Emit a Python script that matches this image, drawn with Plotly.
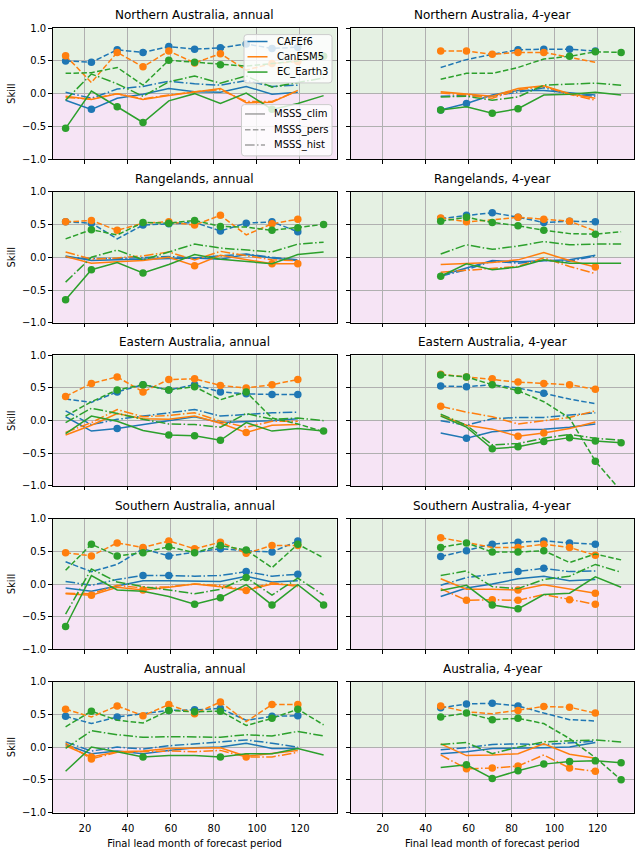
import plotly.graph_objects as go

# ---------------- data ----------------
LEAD_ANNUAL = [11, 23, 35, 47, 59, 71, 83, 95, 107, 119, 131]
LEAD_4YR = [47, 59, 71, 83, 95, 107, 119, 131]
X_TICKS = [20, 40, 60, 80, 100, 120]
Y_TICKS = [-1.0, -0.5, 0.0, 0.5, 1.0]
MODELS = ["CAFEf6", "CanESM5", "EC_Earth3"]
METRICS = ["MSSS_clim", "MSSS_pers", "MSSS_hist"]
REGIONS = ["Northern Australia", "Rangelands", "Eastern Australia", "Southern Australia", "Australia"]

# Northern Australia, annual
n_ann_clim_cafe = [-0.10, -0.24, -0.07, -0.01, 0.08, 0.03, 0.02, 0.11, -0.01, 0.02]
n_ann_clim_can = [-0.04, -0.09, 0.00, -0.09, -0.03, 0.02, 0.08, -0.14, -0.13, 0.05]
n_ann_clim_ec = [-0.53, 0.04, -0.20, -0.44, -0.11, 0.00, -0.15, 0.01, -0.24, -0.15, -0.03]
n_ann_pers_cafe = [0.50, 0.48, 0.67, 0.63, 0.72, 0.68, 0.70, 0.76, 0.69, 0.71]
n_ann_pers_can = [0.58, 0.17, 0.63, 0.41, 0.65, 0.47, 0.61, 0.36, 0.46, 0.49]
n_ann_pers_ec = [0.31, 0.32, 0.40, 0.13, 0.51, 0.48, 0.44, 0.42, 0.46, 0.50, 0.57]
n_ann_hist_cafe = [0.02, -0.07, 0.07, 0.11, 0.19, 0.15, 0.13, 0.20, 0.11, 0.13]
n_ann_hist_can = [-0.06, -0.08, 0.00, -0.08, -0.02, 0.03, 0.06, -0.12, -0.12, 0.04]
n_ann_hist_ec = [-0.10, 0.30, 0.15, -0.04, 0.18, 0.27, 0.16, 0.27, 0.10, 0.17, 0.24]
n_ann_sig_clim = [[1], [], [0, 2, 3, 8]]
n_ann_sig_pers = [[0, 1, 2, 3, 4, 5, 6, 7, 8, 9], [0, 2, 3, 4, 5, 6, 8, 9], [4, 5, 6, 10]]
n_ann_sig_hist = [[], [], []]

# Northern Australia, 4-year
n_4y_clim_cafe = [-0.25, -0.15, -0.02, 0.05, 0.05, 0.02, -0.02]
n_4y_clim_can = [0.03, -0.01, -0.04, 0.08, 0.12, 0.00, -0.07]
n_4y_clim_ec = [-0.25, -0.20, -0.30, -0.23, -0.02, -0.01, 0.02, -0.02]
n_4y_pers_cafe = [0.40, 0.52, 0.60, 0.67, 0.68, 0.68, 0.65]
n_4y_pers_can = [0.65, 0.65, 0.60, 0.63, 0.63, 0.55, 0.48]
n_4y_pers_ec = [0.22, 0.31, 0.31, 0.40, 0.53, 0.57, 0.64, 0.63]
n_4y_hist_cafe = [-0.04, -0.03, -0.04, 0.03, 0.09, -0.01, -0.04]
n_4y_hist_can = [0.01, -0.02, -0.07, 0.06, 0.11, -0.01, -0.10]
n_4y_hist_ec = [-0.05, -0.04, -0.10, -0.05, 0.13, 0.14, 0.16, 0.13]
n_4y_sig_clim = [[0, 1], [], [0, 2, 3]]
n_4y_sig_pers = [[3, 4, 5, 6], [0, 1, 2, 3, 4], [5, 6, 7]]
n_4y_sig_hist = [[], [], []]

# Rangelands, annual
r_ann_clim_cafe = [0.02, -0.05, -0.04, -0.03, -0.03, -0.01, -0.03, 0.04, -0.01, -0.05]
r_ann_clim_can = [0.01, -0.09, -0.07, -0.05, 0.00, -0.13, 0.03, -0.04, -0.10, -0.10]
r_ann_clim_ec = [-0.65, -0.19, -0.08, -0.24, -0.11, 0.04, -0.03, -0.06, -0.10, 0.04, 0.08]
r_ann_pers_cafe = [0.54, 0.52, 0.28, 0.49, 0.51, 0.53, 0.40, 0.52, 0.54, 0.39]
r_ann_pers_can = [0.54, 0.56, 0.41, 0.52, 0.54, 0.49, 0.64, 0.34, 0.51, 0.58]
r_ann_pers_ec = [0.28, 0.42, 0.34, 0.53, 0.52, 0.56, 0.47, 0.46, 0.41, 0.45, 0.50]
r_ann_hist_cafe = [0.00, -0.02, -0.02, 0.00, 0.01, -0.01, 0.02, 0.05, 0.00, -0.04]
r_ann_hist_can = [0.08, -0.03, -0.01, 0.02, 0.08, -0.04, 0.09, 0.02, -0.04, -0.05]
r_ann_hist_ec = [-0.38, 0.00, 0.11, -0.04, 0.08, 0.20, 0.14, 0.11, 0.08, 0.20, 0.23]
r_ann_sig_clim = [[], [5, 8, 9], [0, 1, 3]]
r_ann_sig_pers = [[0, 1, 3, 4, 5, 6, 7, 8, 9], [0, 1, 2, 4, 5, 6, 8, 9], [1, 3, 4, 5, 6, 8, 9, 10]]
r_ann_sig_hist = [[], [], []]

# Rangelands, 4-year
r_4y_clim_cafe = [-0.28, -0.16, -0.05, -0.07, -0.06, -0.04, 0.03]
r_4y_clim_can = [-0.11, -0.10, -0.08, -0.04, 0.07, -0.05, -0.15]
r_4y_clim_ec = [-0.29, -0.10, -0.19, -0.15, -0.04, -0.09, -0.09, -0.09]
r_4y_pers_cafe = [0.59, 0.64, 0.68, 0.61, 0.53, 0.55, 0.54]
r_4y_pers_can = [0.60, 0.54, 0.57, 0.61, 0.58, 0.55, 0.40]
r_4y_pers_ec = [0.55, 0.61, 0.53, 0.48, 0.41, 0.36, 0.35, 0.39]
r_4y_hist_cafe = [-0.29, -0.19, -0.06, -0.09, -0.05, -0.06, 0.02]
r_4y_hist_can = [-0.23, -0.20, -0.18, -0.14, -0.01, -0.14, -0.25]
r_4y_hist_ec = [0.05, 0.19, 0.12, 0.17, 0.24, 0.19, 0.20, 0.20]
r_4y_sig_clim = [[], [6], [0]]
r_4y_sig_pers = [[0, 1, 2, 3, 4, 5, 6], [0, 1, 3, 4, 5], [0, 1, 2, 3, 4, 6]]
r_4y_sig_hist = [[], [], []]

# Eastern Australia, annual
e_ann_clim_cafe = [0.06, -0.16, -0.12, -0.06, 0.00, 0.06, -0.03, -0.02, 0.00, 0.03]
e_ann_clim_can = [-0.22, -0.07, 0.11, 0.03, 0.02, 0.07, -0.04, -0.18, -0.07, -0.06]
e_ann_clim_ec = [-0.20, 0.07, -0.01, -0.15, -0.22, -0.23, -0.30, -0.03, -0.16, -0.12, -0.16]
e_ann_pers_cafe = [0.33, 0.28, 0.44, 0.55, 0.47, 0.55, 0.44, 0.41, 0.40, 0.40]
e_ann_pers_can = [0.37, 0.57, 0.67, 0.44, 0.63, 0.64, 0.54, 0.50, 0.55, 0.63]
e_ann_pers_ec = [0.07, 0.29, 0.47, 0.55, 0.47, 0.52, 0.32, 0.44, 0.04, -0.05, -0.17]
e_ann_hist_cafe = [0.15, -0.06, 0.02, 0.07, 0.13, 0.17, 0.07, 0.10, 0.12, 0.13]
e_ann_hist_can = [-0.18, -0.03, 0.17, 0.06, 0.08, 0.12, -0.01, -0.10, -0.01, -0.01]
e_ann_hist_ec = [-0.03, 0.19, 0.11, 0.02, -0.05, -0.06, -0.10, 0.11, 0.02, 0.04, 0.00]
e_ann_sig_clim = [[2], [7], [4, 5, 6, 10]]
e_ann_sig_pers = [[2, 3, 4, 5, 6, 7, 8, 9], [0, 1, 2, 3, 4, 5, 6, 7, 8, 9], [2, 3, 4, 5, 7]]
e_ann_sig_hist = [[], [], []]

# Eastern Australia, 4-year
e_4y_clim_cafe = [-0.19, -0.27, -0.17, -0.14, -0.13, -0.10, -0.05]
e_4y_clim_can = [0.08, -0.07, -0.13, -0.24, -0.19, -0.12, -0.02]
e_4y_clim_ec = [0.07, -0.10, -0.43, -0.40, -0.32, -0.26, -0.31, -0.34]
e_4y_pers_cafe = [0.53, 0.52, 0.55, 0.50, 0.42, 0.33, 0.26]
e_4y_pers_can = [0.71, 0.67, 0.64, 0.59, 0.57, 0.55, 0.48]
e_4y_pers_ec = [0.70, 0.67, 0.55, 0.46, 0.29, 0.04, -0.62, -1.08]
e_4y_hist_cafe = [0.00, -0.07, 0.03, 0.05, 0.05, 0.08, 0.12]
e_4y_hist_can = [0.22, 0.13, 0.06, -0.05, 0.00, 0.05, 0.15]
e_4y_hist_ec = [0.10, -0.07, -0.37, -0.35, -0.27, -0.21, -0.27, -0.30]
e_4y_sig_clim = [[1], [3, 4], [2, 3, 4, 5, 6, 7]]
e_4y_sig_pers = [[0, 1, 4], [0, 1, 2, 3, 4, 5, 6], [0, 1, 2, 3, 6]]
e_4y_sig_hist = [[], [0], []]

# Southern Australia, annual
s_ann_clim_cafe = [-0.06, -0.11, -0.03, 0.05, 0.05, 0.04, 0.04, 0.12, 0.03, 0.05]
s_ann_clim_can = [-0.15, -0.17, -0.05, -0.09, -0.05, 0.00, -0.04, -0.10, 0.00, -0.02]
s_ann_clim_ec = [-0.65, 0.13, -0.09, -0.11, -0.19, -0.31, -0.21, -0.01, -0.32, -0.01, -0.32]
s_ann_pers_cafe = [0.34, 0.19, 0.30, 0.54, 0.43, 0.49, 0.54, 0.51, 0.49, 0.66]
s_ann_pers_can = [0.48, 0.43, 0.63, 0.56, 0.66, 0.54, 0.64, 0.47, 0.59, 0.59]
s_ann_pers_ec = [0.21, 0.61, 0.43, 0.48, 0.57, 0.48, 0.59, 0.52, 0.25, 0.61, 0.40]
s_ann_hist_cafe = [0.04, -0.02, 0.07, 0.13, 0.13, 0.12, 0.13, 0.19, 0.12, 0.15]
s_ann_hist_can = [-0.14, -0.15, -0.02, -0.06, -0.04, 0.00, -0.02, -0.09, 0.02, -0.04]
s_ann_hist_ec = [-0.46, 0.23, 0.03, -0.04, -0.09, -0.15, -0.08, 0.10, -0.17, 0.09, -0.17]
s_ann_sig_clim = [[], [1, 3, 7], [0, 5, 6, 8, 10]]
s_ann_sig_pers = [[3, 4, 5, 6, 7, 8, 9], [0, 1, 2, 3, 4, 5, 6, 7, 8, 9], [1, 2, 3, 4, 5, 6, 7, 9]]
s_ann_sig_hist = [[3, 4, 7, 9], [], [7]]

# Southern Australia, 4-year
s_4y_clim_cafe = [-0.19, -0.06, 0.00, 0.08, 0.12, 0.05, 0.07]
s_4y_clim_can = [0.08, -0.08, -0.08, -0.09, -0.01, -0.08, -0.14]
s_4y_clim_ec = [-0.10, -0.02, -0.32, -0.38, -0.16, -0.14, 0.11, -0.05]
s_4y_pers_cafe = [0.42, 0.51, 0.61, 0.64, 0.66, 0.63, 0.61]
s_4y_pers_can = [0.71, 0.63, 0.56, 0.56, 0.61, 0.56, 0.44]
s_4y_pers_ec = [0.56, 0.63, 0.49, 0.49, 0.51, 0.33, 0.46, 0.37]
s_4y_hist_cafe = [-0.02, 0.10, 0.15, 0.19, 0.24, 0.19, 0.20]
s_4y_hist_can = [-0.07, -0.25, -0.24, -0.25, -0.16, -0.24, -0.31]
s_4y_hist_ec = [0.13, 0.20, -0.04, -0.07, 0.07, 0.12, 0.30, 0.18]
s_4y_sig_clim = [[], [3, 6], [2, 3]]
s_4y_sig_pers = [[0, 1, 2, 3, 4, 5, 6], [0, 3, 4, 5, 6], [0, 1, 2, 3, 4]]
s_4y_sig_hist = [[3, 4], [1, 2, 3, 5, 6], []]

# Australia, annual
a_ann_clim_cafe = [0.04, -0.10, -0.06, -0.10, -0.05, -0.01, 0.00, 0.06, -0.02, -0.02]
a_ann_clim_can = [0.02, -0.15, -0.07, -0.06, -0.02, -0.02, -0.01, -0.14, -0.10, -0.05]
a_ann_clim_ec = [-0.37, 0.00, -0.07, -0.15, -0.13, -0.13, -0.15, -0.10, -0.10, -0.02, -0.12]
a_ann_pers_cafe = [0.47, 0.36, 0.46, 0.51, 0.56, 0.57, 0.59, 0.41, 0.47, 0.48]
a_ann_pers_can = [0.58, 0.46, 0.63, 0.48, 0.65, 0.51, 0.69, 0.39, 0.65, 0.65]
a_ann_pers_ec = [0.31, 0.55, 0.41, 0.37, 0.56, 0.54, 0.55, 0.33, 0.44, 0.58, 0.34]
a_ann_hist_cafe = [0.08, -0.06, 0.00, -0.03, 0.02, 0.05, 0.07, 0.11, 0.06, 0.00]
a_ann_hist_can = [0.06, -0.18, -0.08, -0.07, -0.06, -0.07, -0.05, -0.15, -0.15, -0.08]
a_ann_hist_ec = [-0.02, 0.25, 0.19, 0.15, 0.16, 0.15, 0.15, 0.19, 0.17, 0.24, 0.17]
a_ann_sig_clim = [[], [1], [3, 6]]
a_ann_sig_pers = [[0, 2, 4, 5, 6, 8, 9], [0, 2, 3, 4, 5, 6, 8, 9], [1, 4, 5, 6, 8, 9]]
a_ann_sig_hist = [[], [1, 7], []]

# Australia, 4-year
a_4y_clim_cafe = [-0.10, -0.07, -0.02, -0.02, -0.01, 0.00, 0.07]
a_4y_clim_can = [0.05, -0.13, -0.12, -0.10, 0.05, -0.11, -0.17]
a_4y_clim_ec = [-0.31, -0.27, -0.48, -0.36, -0.26, -0.22, -0.21, -0.24]
a_4y_pers_cafe = [0.60, 0.66, 0.67, 0.63, 0.52, 0.42, 0.40]
a_4y_pers_can = [0.63, 0.54, 0.51, 0.56, 0.62, 0.61, 0.52]
a_4y_pers_ec = [0.46, 0.52, 0.42, 0.44, 0.36, 0.13, -0.16, -0.50]
a_4y_hist_cafe = [-0.04, -0.01, 0.04, 0.05, 0.04, 0.06, 0.09]
a_4y_hist_can = [-0.12, -0.33, -0.32, -0.29, -0.12, -0.32, -0.37]
a_4y_hist_ec = [0.04, 0.07, -0.10, 0.00, 0.08, 0.09, 0.11, 0.08]
a_4y_sig_clim = [[], [], [1, 2, 3, 4, 5, 6, 7]]
a_4y_sig_pers = [[0, 1, 2, 3], [0, 3, 4, 5, 6], [0, 1, 2, 3, 7]]
a_4y_sig_hist = [[], [1, 2, 3, 5, 6], []]

# ---------------- styling ----------------
COLORS = ["#1f77b4", "#ff7f0e", "#2ca02c"]
LEGEND_GREY = "#a0a0a0"
DASHES = {"MSSS_clim": "solid",
          "MSSS_pers": "5.5px,2.4px",
          "MSSS_hist": "9.6px,2.4px,1.5px,2.4px"}
FONT = "DejaVu Sans"
W, H = 640, 856

# panel pixel boxes (left, right) and (top, bottom)
COLS_PX = [(52.7, 336.5), (350.5, 634.0)]
ROWS_PX = [(22.5, 155.3), (188.3, 321.3), (354.3, 486.8), (520.0, 652.5), (685.3, 818.0)]

g = globals()
panels = []
for r, (key, region) in enumerate(zip(["n", "r", "e", "s", "a"], REGIONS)):
    for c, (per, label, lead) in enumerate([("ann", "annual", LEAD_ANNUAL), ("4y", "4-year", LEAD_4YR)]):
        series = {}
        for m in ["clim", "pers", "hist"]:
            vals = [g[f"{key}_{per}_{m}_cafe"], g[f"{key}_{per}_{m}_can"], g[f"{key}_{per}_{m}_ec"]]
            sig = g[f"{key}_{per}_sig_{m}"]
            series["MSSS_" + m] = (vals, sig)
        panels.append((r, c, f"{region}, {label}", lead, series))

fig = go.Figure()
layout = {}
shapes = []
annotations = []

for i, (r, c, title, lead, series) in enumerate(panels):
    n = i + 1
    xa = "x" if n == 1 else f"x{n}"
    ya = "y" if n == 1 else f"y{n}"
    xl, xr = COLS_PX[c]
    yt, yb = ROWS_PX[r]
    xdom = [xl / W, xr / W]
    ydom = [1 - yb / H, 1 - yt / H]
    bottom = (r == len(ROWS_PX) - 1)
    left = (c == 0)
    layout["xaxis" if n == 1 else f"xaxis{n}"] = dict(
        domain=xdom, anchor=ya, range=[5, 137], tickvals=X_TICKS,
        showticklabels=bottom, ticks="outside", ticklen=3.5, tickwidth=0.8, tickcolor="black",
        showgrid=True, gridcolor="#b0b0b0", gridwidth=0.8, zeroline=False,
        showline=True, mirror=True, linecolor="black", linewidth=1,
        tickfont=dict(family=FONT, size=10, color="black"), ticklabelstandoff=3,
        title=dict(text="Final lead month of forecast period" if bottom else "",
                   font=dict(family=FONT, size=10, color="black"), standoff=6),
    )
    layout["yaxis" if n == 1 else f"yaxis{n}"] = dict(
        domain=ydom, anchor=xa, range=[-1, 1], tickvals=Y_TICKS, tickformat=".1f",
        showticklabels=left, ticks="outside", ticklen=3.5, tickwidth=0.8, tickcolor="black",
        showgrid=True, gridcolor="#b0b0b0", gridwidth=0.8, zeroline=False,
        showline=True, mirror=True, linecolor="black", linewidth=1,
        tickfont=dict(family=FONT, size=10, color="black"),
        title=dict(text="Skill" if left else "", font=dict(family=FONT, size=10, color="black"),
                   standoff=4),
    )
    shapes.append(dict(type="rect", xref=f"{xa} domain", yref=ya, x0=0, x1=1, y0=0, y1=1,
                       fillcolor="#e5f1e3", line=dict(width=0), layer="below"))
    shapes.append(dict(type="rect", xref=f"{xa} domain", yref=ya, x0=0, x1=1, y0=-1, y1=0,
                       fillcolor="#f6e4f5", line=dict(width=0), layer="below"))
    annotations.append(dict(text=title, xref="paper", yref="paper",
                            x=(xdom[0] + xdom[1]) / 2, y=ydom[1], xanchor="center", yanchor="bottom",
                            yshift=4, showarrow=False, font=dict(family=FONT, size=12, color="black")))

    for k, model in enumerate(MODELS):
        for metric in METRICS:
            vals, sig = series[metric]
            yv = vals[k]
            xv = lead[:len(yv)]
            fig.add_trace(go.Scatter(x=xv, y=yv, mode="lines", xaxis=xa, yaxis=ya,
                                     line=dict(color=COLORS[k], width=1.5, dash=DASHES[metric]),
                                     showlegend=False, hoverinfo="skip"))
            sx = [xv[j] for j in sig[k]]
            sy = [yv[j] for j in sig[k]]
            if sx:
                fig.add_trace(go.Scatter(x=sx, y=sy, mode="markers", xaxis=xa, yaxis=ya,
                                         marker=dict(color=COLORS[k], size=7.5, line=dict(width=0)),
                                         showlegend=False, hoverinfo="skip", cliponaxis=True))


# ---- legends (drawn by hand to match matplotlib's compact legend boxes) ----
def px_x(v):
    return v / W


def px_y(v):
    return 1 - v / H


def rounded_box(x0, y0, x1, y1, rad=3):
    rx, ry = rad / W, rad / H
    X0, X1 = px_x(x0), px_x(x1)
    Y0, Y1 = px_y(y0), px_y(y1)  # Y0 top, Y1 bottom (paper)
    path = (f"M {X0 + rx},{Y0} L {X1 - rx},{Y0} Q {X1},{Y0} {X1},{Y0 - ry} "
            f"L {X1},{Y1 + ry} Q {X1},{Y1} {X1 - rx},{Y1} "
            f"L {X0 + rx},{Y1} Q {X0},{Y1} {X0},{Y1 + ry} "
            f"L {X0},{Y0 - ry} Q {X0},{Y0} {X0 + rx},{Y0} Z")
    return dict(type="path", xref="paper", yref="paper", path=path,
                fillcolor="rgba(255,255,255,0.8)", line=dict(color="#cccccc", width=1), layer="above")


def legend_block(box, rows, labels, colors, dashes, handle_x0):
    shapes.append(rounded_box(*box))
    for yrow, lab, col, dsh in zip(rows, labels, colors, dashes):
        shapes.append(dict(type="line", xref="paper", yref="paper",
                           x0=px_x(handle_x0), x1=px_x(handle_x0 + 20), y0=px_y(yrow), y1=px_y(yrow),
                           line=dict(color=col, width=1.5, dash=dsh), layer="above"))
        annotations.append(dict(text=lab, xref="paper", yref="paper", x=px_x(handle_x0 + 27),
                                y=px_y(yrow), xanchor="left", yanchor="middle", showarrow=False,
                                font=dict(family=FONT, size=10, color="black")))


legend_block((244, 29, 332, 78), [36, 51.5, 67], MODELS, COLORS, ["solid"] * 3, 247.5)
legend_block((241.5, 100, 332, 152), [109.5, 125.5, 141], METRICS, [LEGEND_GREY] * 3,
             [DASHES[m] for m in METRICS], 245)

fig.update_layout(
    **layout,
    shapes=shapes,
    annotations=annotations,
    width=W, height=H,
    margin=dict(l=0, r=0, t=0, b=0),
    paper_bgcolor="white", plot_bgcolor="rgba(0,0,0,0)",
    font=dict(family=FONT, size=10, color="black"),
    showlegend=False,
)

fig.write_html("out.html")
